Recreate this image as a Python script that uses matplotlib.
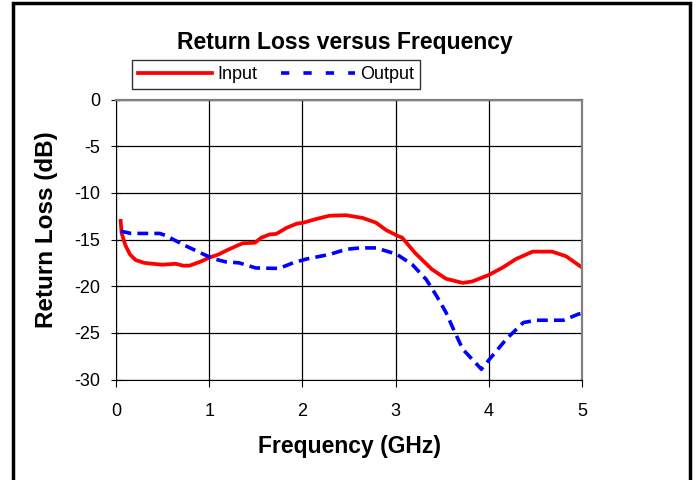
import matplotlib
matplotlib.use("Agg")
import matplotlib.pyplot as plt
from matplotlib.lines import Line2D
from matplotlib.patches import Rectangle

# ====== data ======
freq_in = [0.05, 0.06, 0.10, 0.15, 0.21, 0.30, 0.39, 0.50, 0.64, 0.72, 0.79,
           0.90, 1.00, 1.10, 1.18, 1.29, 1.36, 1.49, 1.56, 1.65, 1.72, 1.83,
           1.94, 2.01, 2.15, 2.29, 2.47, 2.65, 2.79, 2.90, 3.02, 3.07, 3.21,
           3.39, 3.54, 3.72, 3.82, 4.00, 4.15, 4.29, 4.47, 4.68, 4.83, 5.00]
loss_in = [-13.0, -14.3, -15.6, -16.6, -17.2, -17.5, -17.6, -17.7, -17.6, -17.8, -17.8,
           -17.4, -16.95, -16.6, -16.2, -15.7, -15.4, -15.35, -14.8, -14.45, -14.4, -13.75,
           -13.3, -13.2, -12.8, -12.45, -12.4, -12.7, -13.2, -14.0, -14.6, -14.8, -16.45,
           -18.2, -19.2, -19.65, -19.5, -18.8, -18.0, -17.1, -16.3, -16.3, -16.8, -18.0]

freq_out = [0.05, 0.16, 0.30, 0.47, 0.54, 0.72, 0.90, 1.04, 1.18, 1.32, 1.50,
            1.75, 1.90, 2.04, 2.29, 2.47, 2.62, 2.79, 2.97, 3.00, 3.18, 3.33,
            3.44, 3.54, 3.62, 3.72, 3.87, 3.92, 4.01, 4.19, 4.37, 4.51, 4.80, 4.96, 5.00]
loss_out = [-14.1, -14.35, -14.35, -14.35, -14.6, -15.55, -16.4, -17.05, -17.4, -17.5, -18.05,
            -18.1, -17.5, -17.1, -16.6, -16.05, -15.9, -15.9, -16.45, -16.5, -17.7, -19.3,
            -21.05, -22.8, -24.6, -26.75, -28.35, -28.9, -27.8, -25.65, -23.9, -23.65, -23.65, -23.0, -22.9]

x_ticks = [0, 1, 2, 3, 4, 5]
y_ticks = [0, -5, -10, -15, -20, -25, -30]

plt.rcParams["font.family"] = ["Liberation Sans", "DejaVu Sans"]

fig = plt.figure(figsize=(6.96, 4.8), dpi=100)
ax = fig.add_axes([116 / 696, 1 - 379.5 / 480, (582 - 116) / 696, (379.5 - 99.5) / 480])

ax.plot(freq_in, loss_in, color="#ff0000", linewidth=2.7, label="Input")
ax.plot(freq_out, loss_out, color="#0000ff", linewidth=2.6, linestyle=(0, (3.0, 1.7)), label="Output")

ax.set_xlim(0, 5)
ax.set_ylim(-30, 0)
ax.set_xticks(x_ticks)
ax.set_yticks(y_ticks)
ax.set_yticklabels([str(v) for v in y_ticks])
ax.tick_params(axis="x", labelsize=13, length=5, direction="out", pad=12)
ax.tick_params(axis="y", labelsize=13, length=7, direction="inout", pad=8)
ax.grid(True, color="black", linewidth=0.9)
for side in ["top", "right"]:
    ax.spines[side].set_color("#808080")
    ax.spines[side].set_linewidth(1.6)
for side in ["left", "bottom"]:
    ax.spines[side].set_color("black")

ax.set_xlabel("Frequency (GHz)", fontsize=16.5, fontweight="bold")
ax.xaxis.set_label_coords(0.502, -0.2)
ax.set_ylabel("Return Loss (dB)", fontsize=17.5, fontweight="bold")
ax.yaxis.set_label_coords(-0.124, 0.534)
fig.text(345 / 696, 1 - 43 / 480, "Return Loss versus Frequency",
         ha="center", va="center", fontsize=16.5, fontweight="bold")

# legend handles get Excel's wider dash spacing
handles = [Line2D([], [], color="#ff0000", linewidth=2.7),
           Line2D([], [], color="#0000ff", linewidth=2.6, linestyle=(0, (2.3, 3.9)))]
leg = ax.legend(handles, ["Input", "Output"], loc="center",
                bbox_to_anchor=(276 / 696, 1 - 74.5 / 480),
                bbox_transform=fig.transFigure, ncol=2, fontsize=13,
                frameon=True, fancybox=False, edgecolor="black",
                handlelength=4.1, handletextpad=0.28, columnspacing=1.3,
                borderpad=0.35, borderaxespad=0)
leg.get_frame().set_linewidth(1.0)

# outer border of the chart
fig.patches.append(Rectangle((13 / 696, -0.01), (690 - 13) / 696, 1 - 3 / 480 + 0.01,
                             transform=fig.transFigure, fill=False,
                             edgecolor="black", linewidth=2.5))

fig.savefig("out.png", dpi=100)
